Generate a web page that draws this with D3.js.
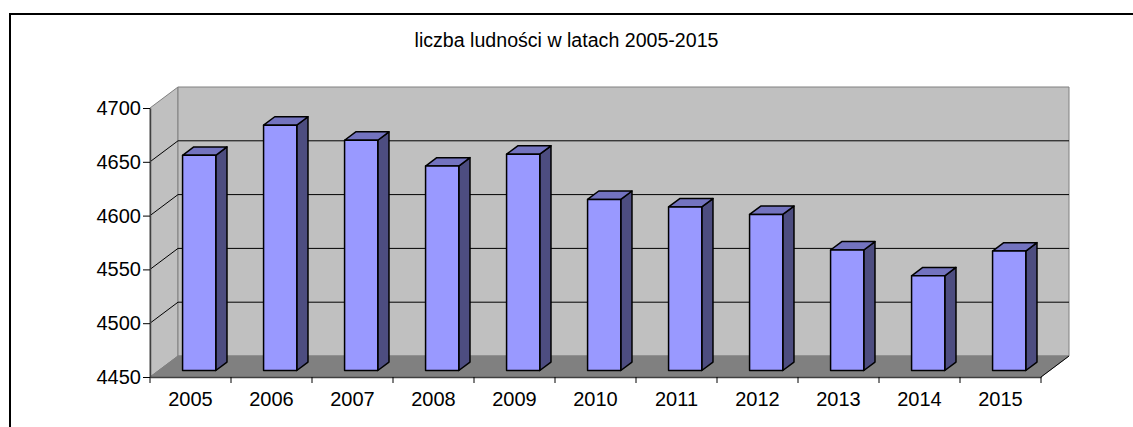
<!DOCTYPE html>
<html>
<head>
    <meta charset="utf-8">
    <script src="https://cdn.jsdelivr.net/npm/d3@7"></script>
    <title></title>
    <style>
        * {
            margin: 0;
            padding: 0;
        }

        body {
            background: white;
        }

        #barChart {
            display: block;
            font-family: "Liberation Sans", Arial, sans-serif;
        }
    </style>
</head>
<body>

    <svg id="barChart" width="1133" height="427"></svg>

    <script>
        var title = "liczba ludności w latach 2005-2015";
        var years = ["2005", "2006", "2007", "2008", "2009", "2010", "2011", "2012", "2013", "2014", "2015"];
        var population = [4650, 4678, 4664, 4640, 4651, 4609, 4602, 4595, 4562, 4538, 4561];
        var yTicks = [4450, 4500, 4550, 4600, 4650, 4700];

        var chart = {};
        chart.svg = d3.select("#barChart");
        chart.font = "20px";

        // outer frame (right and bottom edges fall outside the picture)
        chart.svg.append("rect")
            .attr("x", 10)
            .attr("y", 14)
            .attr("width", 1300)
            .attr("height", 600)
            .attr("fill", "white")
            .attr("stroke", "black")
            .attr("stroke-width", 2);

        chart.svg.append("text")
            .attr("x", 566.5)
            .attr("y", 47)
            .attr("text-anchor", "middle")
            .style("font-size", "19.6px")
            .text(title);

        // front plane scales
        chart.x = d3.scaleBand()
            .domain(years)
            .range([150, 1041]);
        chart.y = d3.scaleLinear()
            .domain([4450, 4700])
            .range([377, 108]);

        // depth of the box (full depth offset)
        chart.depthX = 28;
        chart.depthY = -21;
        function proj(x, y, z) {
            return [x + z * chart.depthX, y + z * chart.depthY];
        }
        function poly(points) {
            return "M" + points.map(p => p[0] + "," + p[1]).join("L") + "Z";
        }

        var x0 = chart.x.range()[0], x1 = chart.x.range()[1];
        var yTop = chart.y(4700), yBot = chart.y(4450);

        // side wall
        chart.svg.append("path")
            .attr("d", poly([proj(x0, yTop, 0), proj(x0, yTop, 1), proj(x0, yBot, 1), proj(x0, yBot, 0)]))
            .attr("fill", "#c0c0c0")
            .attr("stroke", "#808080");

        // back wall
        chart.svg.append("path")
            .attr("d", poly([proj(x0, yTop, 1), proj(x1, yTop, 1), proj(x1, yBot, 1), proj(x0, yBot, 1)]))
            .attr("fill", "#c0c0c0")
            .attr("stroke", "#808080");

        // floor
        chart.svg.append("path")
            .attr("d", poly([proj(x0, yBot, 0), proj(x1, yBot, 0), proj(x1, yBot, 1), proj(x0, yBot, 1)]))
            .attr("fill", "#808080")
            .attr("stroke", "#808080");

        // gridlines: on side wall and back wall
        chart.svg.append("g")
            .selectAll("path")
            .data(yTicks.filter(v => v > 4450 && v < 4700))
            .enter()
            .append("path")
            .attr("d", function (v) {
                var a = proj(x0, chart.y(v), 0), b = proj(x0, chart.y(v), 1), c = proj(x1, chart.y(v), 1);
                return "M" + a + "L" + b + "L" + c;
            })
            .attr("fill", "none")
            .attr("stroke", "black")
            .attr("stroke-width", 1);

        // bars
        chart.z0 = 0.31;
        chart.z1 = 0.71;
        chart.barW = chart.x.bandwidth() * 0.41;

        chart.bars = chart.svg.append("g")
            .selectAll("g")
            .data(years.map((d, i) => ({ year: d, value: population[i] })))
            .enter()
            .append("g");

        function barGeom(d) {
            var cx = chart.x(d.year) + chart.x.bandwidth() / 2;
            var l = cx - chart.barW / 2, r = cx + chart.barW / 2;
            var t = chart.y(d.value), b = chart.y(4450);
            return { l: l, r: r, t: t, b: b };
        }

        chart.bars.append("path")
            .attr("d", function (d) {
                var g = barGeom(d);
                return poly([proj(g.r, g.t, chart.z0), proj(g.r, g.t, chart.z1), proj(g.r, g.b, chart.z1), proj(g.r, g.b, chart.z0)]);
            })
            .attr("fill", "#4d4d80")
            .attr("stroke", "black")
            .attr("stroke-width", 1.5)
            .attr("stroke-linejoin", "round");

        chart.bars.append("path")
            .attr("d", function (d) {
                var g = barGeom(d);
                return poly([proj(g.l, g.t, chart.z0), proj(g.l, g.t, chart.z1), proj(g.r, g.t, chart.z1), proj(g.r, g.t, chart.z0)]);
            })
            .attr("fill", "#7373bf")
            .attr("stroke", "black")
            .attr("stroke-width", 1.5)
            .attr("stroke-linejoin", "round");

        chart.bars.append("path")
            .attr("d", function (d) {
                var g = barGeom(d);
                return poly([proj(g.l, g.t, chart.z0), proj(g.r, g.t, chart.z0), proj(g.r, g.b, chart.z0), proj(g.l, g.b, chart.z0)]);
            })
            .attr("fill", "#9999ff")
            .attr("stroke", "black")
            .attr("stroke-width", 1.5)
            .attr("stroke-linejoin", "round");

        // floor right diagonal edge
        chart.svg.append("path")
            .attr("d", "M" + proj(x1, yBot, 0) + "L" + proj(x1, yBot, 1))
            .attr("stroke", "black")
            .attr("stroke-width", 1);

        // Y axis
        chart.axisY = chart.svg.append("g")
            .attr("transform", "translate(" + x0 + ",0)")
            .call(d3.axisLeft(chart.y).tickValues(yTicks).tickSize(7).tickSizeOuter(0).tickPadding(2).tickFormat(d3.format("d")));
        chart.axisY.select(".domain").attr("stroke", "#404040").attr("stroke-width", 1.5);
        chart.axisY.selectAll("text")
            .style("font-size", chart.font)
            .style("font-family", "'Liberation Sans', Arial, sans-serif")
            .attr("fill", "black");

        // X axis (labels at band centres, ticks at band edges)
        chart.axisX = chart.svg.append("g")
            .attr("transform", "translate(0," + yBot + ")")
            .call(d3.axisBottom(chart.x).tickSize(0).tickPadding(15));
        chart.axisX.select(".domain").attr("stroke", "#404040").attr("stroke-width", 1.5);
        chart.axisX.selectAll("text")
            .style("font-size", chart.font)
            .style("font-family", "'Liberation Sans', Arial, sans-serif")
            .attr("fill", "black");
        chart.axisX.selectAll(".edgeTick")
            .data(years.map(d => chart.x(d)).concat([x1]))
            .enter()
            .append("line")
            .attr("class", "edgeTick")
            .attr("x1", d => d)
            .attr("x2", d => d)
            .attr("y1", 0)
            .attr("y2", 6)
            .attr("stroke", "black");
    </script>
</body>
</html>
